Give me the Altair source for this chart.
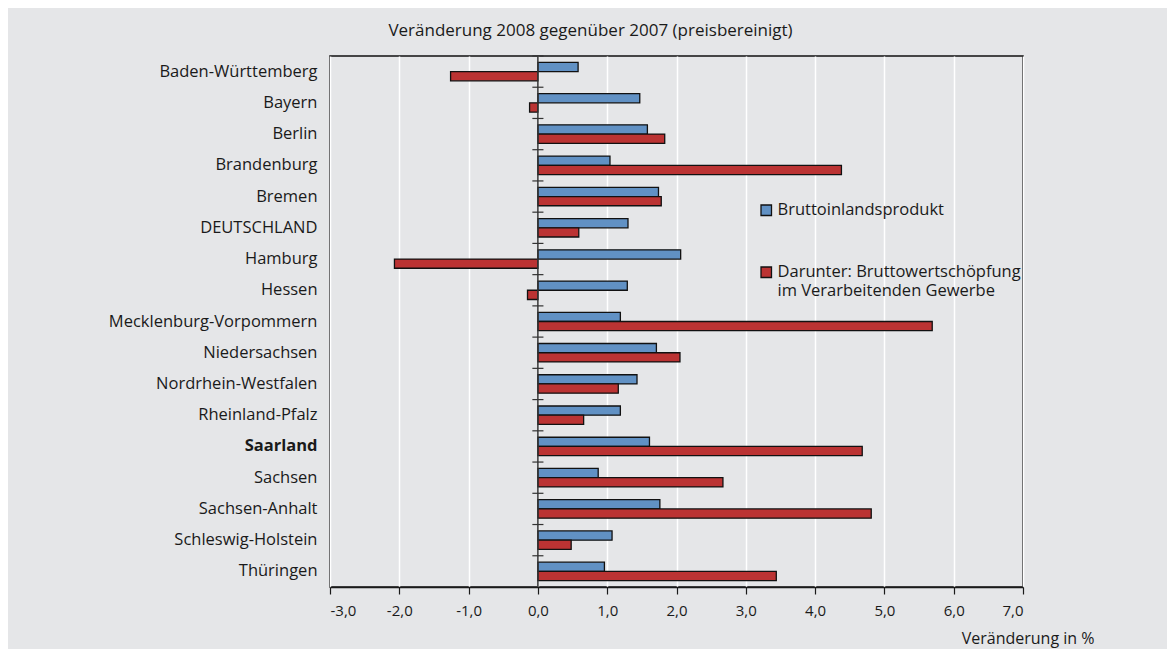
import altair as alt
import pandas as pd

states = ["Baden-Württemberg", "Bayern", "Berlin", "Brandenburg", "Bremen",
          "DEUTSCHLAND", "Hamburg", "Hessen", "Mecklenburg-Vorpommern",
          "Niedersachsen", "Nordrhein-Westfalen", "Rheinland-Pfalz", "Saarland",
          "Sachsen", "Sachsen-Anhalt", "Schleswig-Holstein", "Thüringen"]
bip = [0.58, 1.47, 1.58, 1.04, 1.74, 1.30, 2.06, 1.29, 1.19, 1.71, 1.43, 1.19,
       1.61, 0.87, 1.76, 1.07, 0.96]
bws = [-1.26, -0.12, 1.83, 4.38, 1.78, 0.59, -2.07, -0.15, 5.69, 2.05, 1.16,
       0.66, 4.68, 2.67, 4.81, 0.48, 3.44]
series = ["Bruttoinlandsprodukt",
          "Darunter: Bruttowertschöpfung im Verarbeitenden Gewerbe"]
colors = ["#6191c4", "#bb3333"]
x_ticks = [-3, -2, -1, 0, 1, 2, 3, 4, 5, 6, 7]

rows = []
for s, a, b in zip(states, bip, bws):
    rows.append({"land": s, "serie": series[0], "wert": a})
    rows.append({"land": s, "serie": series[1], "wert": b})
df = pd.DataFrame(rows)
df_states = pd.DataFrame({"land": states})
df_zero = pd.DataFrame({"z": [0]})

FONT = "Open Sans"
BG = "#e5e6e8"

y_enc = alt.Y("land:N", sort=states, title=None,
              scale=alt.Scale(paddingInner=0.41, paddingOuter=0.205),
              axis=alt.Axis(ticks=False, domain=False, labelPadding=13,
                            labelFontSize=16.5, labelColor="#1a1a1a",
                            labelFont=FONT, labelLimit=400,
                            labelFontWeight={"condition": {"test": "datum.value == 'Saarland'", "value": "bold"}, "value": "normal"}))

x_scale = alt.Scale(domain=[-3, 7], nice=False, zero=False)

bars = alt.Chart(df).mark_bar(stroke="#111111", strokeWidth=1.3, cornerRadius=0).encode(
    y=y_enc,
    yOffset=alt.YOffset("serie:N", sort=series, scale=alt.Scale(paddingInner=0, paddingOuter=0)),
    x=alt.X("wert:Q", scale=x_scale,
            axis=alt.Axis(values=x_ticks, grid=True, gridColor="#ffffff", gridWidth=1.5,
                          domain=True, domainColor="#1a1a1a", domainWidth=1.5,
                          tickColor="#1a1a1a", tickSize=7, tickWidth=1.2,
                          labelFontSize=15, labelFont=FONT, labelColor="#1a1a1a",
                          labelPadding=9,
                          labelExpr="replace(replace(format(datum.value, '.1f'), '.', ','), '\u2212', '-')",
                          title="Veränderung in %", titleFont=FONT, titleFontSize=16,
                          titleFontWeight="normal", titleColor="#1a1a1a",
                          titleAnchor="end", titleAlign="right", titleBaseline="middle",
                          titleX=764, titleY=51)),
    x2=alt.datum(0),
    color=alt.Color("serie:N", sort=series,
                    scale=alt.Scale(domain=series, range=colors),
                    legend=alt.Legend(title=None, orient="none", legendX=428, legendY=146,
                                      symbolType="square", symbolSize=110,
                                      symbolStrokeColor="#111111", symbolStrokeWidth=1.3,
                                      symbolOpacity=1,
                                      labelFontSize=16.5, labelFont=FONT, labelColor="#1a1a1a",
                                      labelOffset=3, rowPadding=45, labelLimit=400,
                                      labelExpr="datum.label == 'Bruttoinlandsprodukt' ? datum.label : ['Darunter: Bruttowertschöpfung', 'im Verarbeitenden Gewerbe']")),
)

zero = alt.Chart(df_zero).mark_rule(color="#333333", strokeWidth=1.5).encode(
    x=alt.X("z:Q", scale=x_scale)
)

ticks = alt.Chart(df_states).mark_rule(color="#333333", strokeWidth=1.2, yOffset=-15.62).encode(
    y=alt.Y("land:N", sort=states),
    x=alt.datum(-0.08),
    x2=alt.datum(0.08),
)

chart = alt.layer(bars, zero, ticks).properties(
    width=693, height=531,
    background=BG,
    padding={"left": 322, "top": 48, "right": 144, "bottom": 62},
    autosize=alt.AutoSizeParams(type="none"),
    title=alt.Title("Veränderung 2008 gegenüber 2007 (preisbereinigt)", font=FONT,
                    fontSize=17, fontWeight="normal", color="#1a1a1a",
                    anchor="middle", dx=-86, offset=15),
).configure_view(
    stroke="#111111", strokeWidth=1.5, fill=BG
)

chart.save("out.html", embed_options={"renderer": "svg", "actions": False})
